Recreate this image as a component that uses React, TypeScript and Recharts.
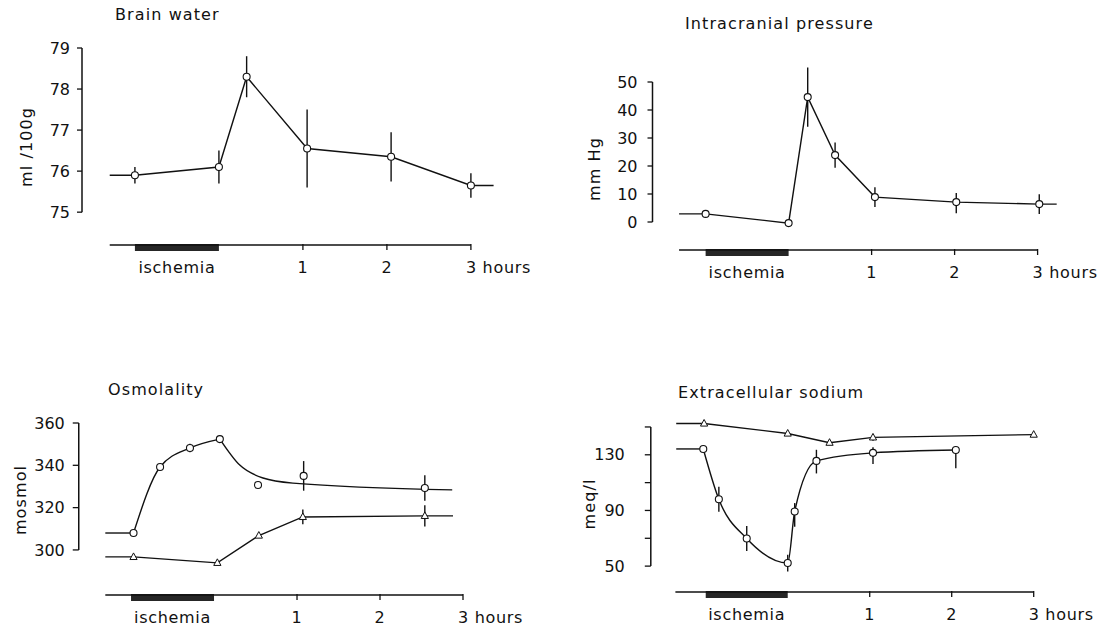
import { ErrorBar, Line, LineChart, ReferenceArea, ReferenceLine, XAxis, YAxis } from 'recharts';

const FONT = '"DejaVu Sans", sans-serif';
const INK = '#111';

// time axis (hours after end of ischemia)
const xTickValues = [-0.5, 1, 2, 3];
const xTickLabels = ['ischemia', '1', '2', '3 hours'];
const ischemiaSpan = [-1, 0];

// Brain water (ml/100g)
const bwTime = [-1, 0, 0.33, 1.05, 2.05, 3];
const bwValue = [75.9, 76.1, 78.3, 76.55, 76.35, 75.65];
const bwError = [0.2, 0.4, 0.5, 0.95, 0.6, 0.3];
const bwStub = [-1.3, 3.27];
const bwTicks = [75, 76, 77, 78, 79];

// Intracranial pressure (mm Hg)
const icpTime = [-1, 0, 0.23, 0.56, 1.04, 2.02, 3.02];
const icpValue = [2.9, -0.4, 44.6, 23.9, 8.9, 7.1, 6.4];
const icpError: (number | number[])[] = [0, 0, 10.6, 4.5, 3.5, [4, 3.3], 3.5];
const icpStub = [-1.32, 3.23];
const icpTicks = [0, 10, 20, 30, 40, 50];

// Osmolality (mosmol): circles with a hand-smoothed trace, triangles joined directly
const osmTopTime = [-0.97, -0.65, -0.29, 0.07, 0.53, 1.08, 2.54];
const osmTopValue = [308, 339.2, 348.2, 352.4, 330.7, 335, 329.3];
const osmTopError = [0, 0, 2, 0, 0, 7, 6];
const osmTopLeadTime = [-1.31, -0.97];
const osmTopLeadValue = [308, 308];
const osmTopRiseTime = [-0.97, -0.65, -0.29, 0.07];
const osmTopRiseValue = [308, 339.2, 348.2, 352.4];
const osmTopFallTime = [0.07, 0.31, 0.59, 0.95, 2.87];
const osmTopFallValue = [352.4, 340.1, 334, 331.6, 328.4];
const osmLowTime = [-0.97, 0.04, 0.54, 1.07, 2.54];
const osmLowValue = [296.7, 293.9, 306.8, 315.6, 316.1];
const osmLowError = [0, 0, 0, 3.5, 5];
const osmLowStub = [-1.31, 2.88];
const osmTicks = [300, 320, 340, 360];

// Extracellular sodium (meq/l)
const naCircTime = [-1.03, -0.84, -0.5, 0, 0.085, 0.35, 1.04, 2.05];
const naCircValue = [134.2, 98, 69.8, 52.2, 89.3, 125.6, 131.4, 133.4];
const naCircError: (number | number[])[] = [0, 9, 9, 6, [11, 6], [9, 8], [8, 4], [13, 0]];
const naCircLeadTime = [-1.36, -1.03];
const naCircLeadValue = [134.2, 134.2];
const naTriTime = [-1.02, 0, 0.51, 1.04, 3];
const naTriValue = [152.5, 145.3, 138.7, 142.5, 144.5];
const naTriError = [0, 0, 0, 2.5, 0];
const naTriStub = [-1.36, null];
const naTicks = [50, 70, 90, 110, 130, 150];
const naLabelled = [50, 90, 130];

type Row = { t: number; v: number; e: number | number[]; mark: boolean };

function buildRows(times: number[], values: number[], errors: (number | number[])[], stub: (number | null)[]): Row[] {
  const rows: Row[] = times.map((t, i) => ({ t, v: values[i], e: errors[i], mark: true }));
  if (stub[0] != null) rows.unshift({ t: stub[0], v: values[0], e: 0, mark: false });
  if (stub[1] != null) rows.push({ t: stub[1], v: values[values.length - 1], e: 0, mark: false });
  return rows;
}

function buildTrace(times: number[], values: number[]): Row[] {
  return times.map((t, i) => ({ t, v: values[i], e: 0, mark: false }));
}

const circleDot = (p: any) =>
  p.payload.mark ? (
    <circle key={`c${p.index}`} cx={p.cx} cy={p.cy} r={3.5} fill="#fff" stroke={INK} strokeWidth={1.1} />
  ) : (
    <g key={`c${p.index}`} />
  );

const triangleDot = (p: any) =>
  p.payload.mark ? (
    <polygon
      key={`t${p.index}`}
      points={`${p.cx},${p.cy - 4} ${p.cx - 3.6},${p.cy + 2.6} ${p.cx + 3.6},${p.cy + 2.6}`}
      fill="#fff"
      stroke={INK}
      strokeWidth={1}
    />
  ) : (
    <g key={`t${p.index}`} />
  );

const XTick = (props: any) => {
  const { x, y, payload } = props;
  const i = xTickValues.indexOf(payload.value);
  const label = xTickLabels[i];
  const style = { fontFamily: FONT, fontSize: 16, letterSpacing: 0.7, fill: INK };
  if (payload.value < 0) {
    return (
      <text x={x} y={y + 28} textAnchor="middle" style={style}>
        {label}
      </text>
    );
  }
  const last = i === xTickValues.length - 1;
  return (
    <g>
      <line x1={x} x2={x} y1={y - 1} y2={y + 5} stroke={INK} strokeWidth={1.3} />
      <text x={last ? x - 5 : x} y={y + 28} textAnchor={last ? 'start' : 'middle'} style={style}>
        {label}
      </text>
    </g>
  );
};

type Trace = { rows: Row[]; curve: 'linear' | 'monotone' };
type SeriesDef = { rows: Row[]; shape: 'circle' | 'triangle'; curve: 'linear' | 'monotone'; traces?: Trace[] };

const Y_W = 40;
const X_H = 30;

interface PanelProps {
  left: number;
  top: number;
  width: number;
  height: number;
  plot: [number, number, number, number]; // left, top, right, bottom inside the panel
  xDomain: [number, number];
  yDomain: [number, number];
  yTicks: number[];
  yShown?: number[];
  axisStart: number;
  tickSize: number;
  tickMargin: number;
  series: SeriesDef[];
}

function Panel({ left, top, width, height, plot, xDomain, yDomain, yTicks, yShown, axisStart, tickSize, tickMargin, series }: PanelProps) {
  const [pl, pt, pr, pb] = plot;
  const margin = { left: pl - Y_W, top: pt, right: width - pr, bottom: height - pb - X_H };
  const ppu = (pb - pt) / (yDomain[1] - yDomain[0]);
  const base = yDomain[0];
  const traces = series.flatMap((s) => s.traces ?? []);
  return (
    <div style={{ position: 'absolute', left, top }}>
      <LineChart width={width} height={height} margin={margin}>
        <XAxis
          type="number"
          dataKey="t"
          domain={xDomain}
          ticks={xTickValues}
          interval={0}
          axisLine={false}
          tickLine={false}
          tickSize={0}
          tickMargin={0}
          height={X_H}
          tick={<XTick />}
        />
        <YAxis
          type="number"
          domain={yDomain}
          ticks={yTicks}
          interval={0}
          width={Y_W}
          axisLine={false}
          tickSize={tickSize}
          tickMargin={tickMargin}
          tickLine={{ stroke: INK, strokeWidth: 1.3 }}
          tick={{ fill: INK, fontSize: 16, fontFamily: FONT }}
          tickFormatter={(v: number) => (!yShown || yShown.includes(v) ? String(v) : '')}
        />
        <ReferenceLine
          segment={[
            { x: xDomain[0], y: yTicks[0] },
            { x: xDomain[0], y: yTicks[yTicks.length - 1] },
          ]}
          stroke={INK}
          strokeWidth={1.5}
          ifOverflow="visible"
        />
        <ReferenceLine
          segment={[
            { x: axisStart, y: base },
            { x: 3, y: base },
          ]}
          stroke={INK}
          strokeWidth={1.5}
          ifOverflow="visible"
        />
        <ReferenceArea
          x1={ischemiaSpan[0]}
          x2={ischemiaSpan[1]}
          y1={base - 6 / ppu}
          y2={base + 1 / ppu}
          fill="#262626"
          fillOpacity={1}
          stroke="none"
          ifOverflow="visible"
        />
        {traces.map((tr, k) => (
          <Line
            key={`trace${k}`}
            data={tr.rows}
            dataKey="v"
            type={tr.curve}
            stroke={INK}
            strokeWidth={1.4}
            dot={false}
            activeDot={false}
            isAnimationActive={false}
          />
        ))}
        {series.map((s, k) => (
          <Line
            key={k}
            data={s.rows}
            dataKey="v"
            type={s.curve}
            stroke={s.traces ? 'none' : INK}
            strokeWidth={1.4}
            dot={s.shape === 'circle' ? circleDot : triangleDot}
            activeDot={false}
            isAnimationActive={false}
          >
            <ErrorBar dataKey="e" direction="y" width={0} stroke={INK} strokeWidth={1.4} />
          </Line>
        ))}
      </LineChart>
    </div>
  );
}

const textStyle = { fontFamily: FONT, fontSize: 16, letterSpacing: 1.1, fill: INK };

export default function App() {
  return (
    <div style={{ position: 'absolute', left: 0, top: 0, width: 1101, height: 626, background: '#fff', overflow: 'hidden' }}>
      <Panel
        left={0}
        top={0}
        width={550}
        height={300}
        plot={[82, 48, 500.3, 245]}
        xDomain={[-1.63, 3.35]}
        yDomain={[74.2, 79]}
        yTicks={bwTicks}
        axisStart={-1.3}
        tickSize={5}
        tickMargin={7}
        series={[{ rows: buildRows(bwTime, bwValue, bwError, bwStub), shape: 'circle', curve: 'linear' }]}
      />
      <Panel
        left={550}
        top={0}
        width={551}
        height={300}
        plot={[102.5, 65.2, 512.5, 250]}
        xDomain={[-1.64, 3.3]}
        yDomain={[-10, 56]}
        yTicks={icpTicks}
        axisStart={-1.32}
        tickSize={5}
        tickMargin={10}
        series={[{ rows: buildRows(icpTime, icpValue, icpError, icpStub), shape: 'circle', curve: 'linear' }]}
      />
      <Panel
        left={0}
        top={320}
        width={550}
        height={306}
        plot={[78.75, 103, 463, 275]}
        xDomain={[-1.63, 3.0]}
        yDomain={[278.7, 360]}
        yTicks={osmTicks}
        axisStart={-1.31}
        tickSize={6}
        tickMargin={8}
        series={[
          {
            rows: buildRows(osmTopTime, osmTopValue, osmTopError, [null, null]),
            traces: [
              { rows: buildTrace(osmTopLeadTime, osmTopLeadValue), curve: 'linear' },
              { rows: buildTrace(osmTopRiseTime, osmTopRiseValue), curve: 'monotone' },
              { rows: buildTrace(osmTopFallTime, osmTopFallValue), curve: 'monotone' },
            ],
            shape: 'circle',
            curve: 'linear',
          },
          { rows: buildRows(osmLowTime, osmLowValue, osmLowError, osmLowStub), shape: 'triangle', curve: 'linear' },
        ]}
      />
      <Panel
        left={550}
        top={320}
        width={551}
        height={306}
        plot={[100.8, 100, 483.7, 272]}
        xDomain={[-1.67, 3.0]}
        yDomain={[31.4, 155]}
        yTicks={naTicks}
        yShown={naLabelled}
        axisStart={-1.37}
        tickSize={6}
        tickMargin={20}
        series={[
          { rows: buildRows(naTriTime, naTriValue, naTriError, naTriStub), shape: 'triangle', curve: 'linear' },
          {
            rows: buildRows(naCircTime, naCircValue, naCircError, [null, null]),
            traces: [
              { rows: buildTrace(naCircLeadTime, naCircLeadValue), curve: 'linear' },
              { rows: buildTrace(naCircTime, naCircValue), curve: 'monotone' },
            ],
            shape: 'circle',
            curve: 'monotone',
          },
        ]}
      />
      <svg width={1101} height={626} style={{ position: 'absolute', left: 0, top: 0, pointerEvents: 'none' }}>
        <text x={115} y={20} style={textStyle}>Brain water</text>
        <text x={685} y={29} style={textStyle}>Intracranial pressure</text>
        <text x={108} y={395} style={textStyle}>Osmolality</text>
        <text x={678} y={398} style={textStyle}>Extracellular sodium</text>
        <text transform="translate(26,147) rotate(-90)" textAnchor="middle" dominantBaseline="central" style={textStyle}>ml /100g</text>
        <text transform="translate(594,169) rotate(-90)" textAnchor="middle" dominantBaseline="central" style={textStyle}>mm Hg</text>
        <text transform="translate(20,500) rotate(-90)" textAnchor="middle" dominantBaseline="central" style={textStyle}>mosmol</text>
        <text transform="translate(589,504) rotate(-90)" textAnchor="middle" dominantBaseline="central" style={textStyle}>meq/l</text>
      </svg>
    </div>
  );
}
